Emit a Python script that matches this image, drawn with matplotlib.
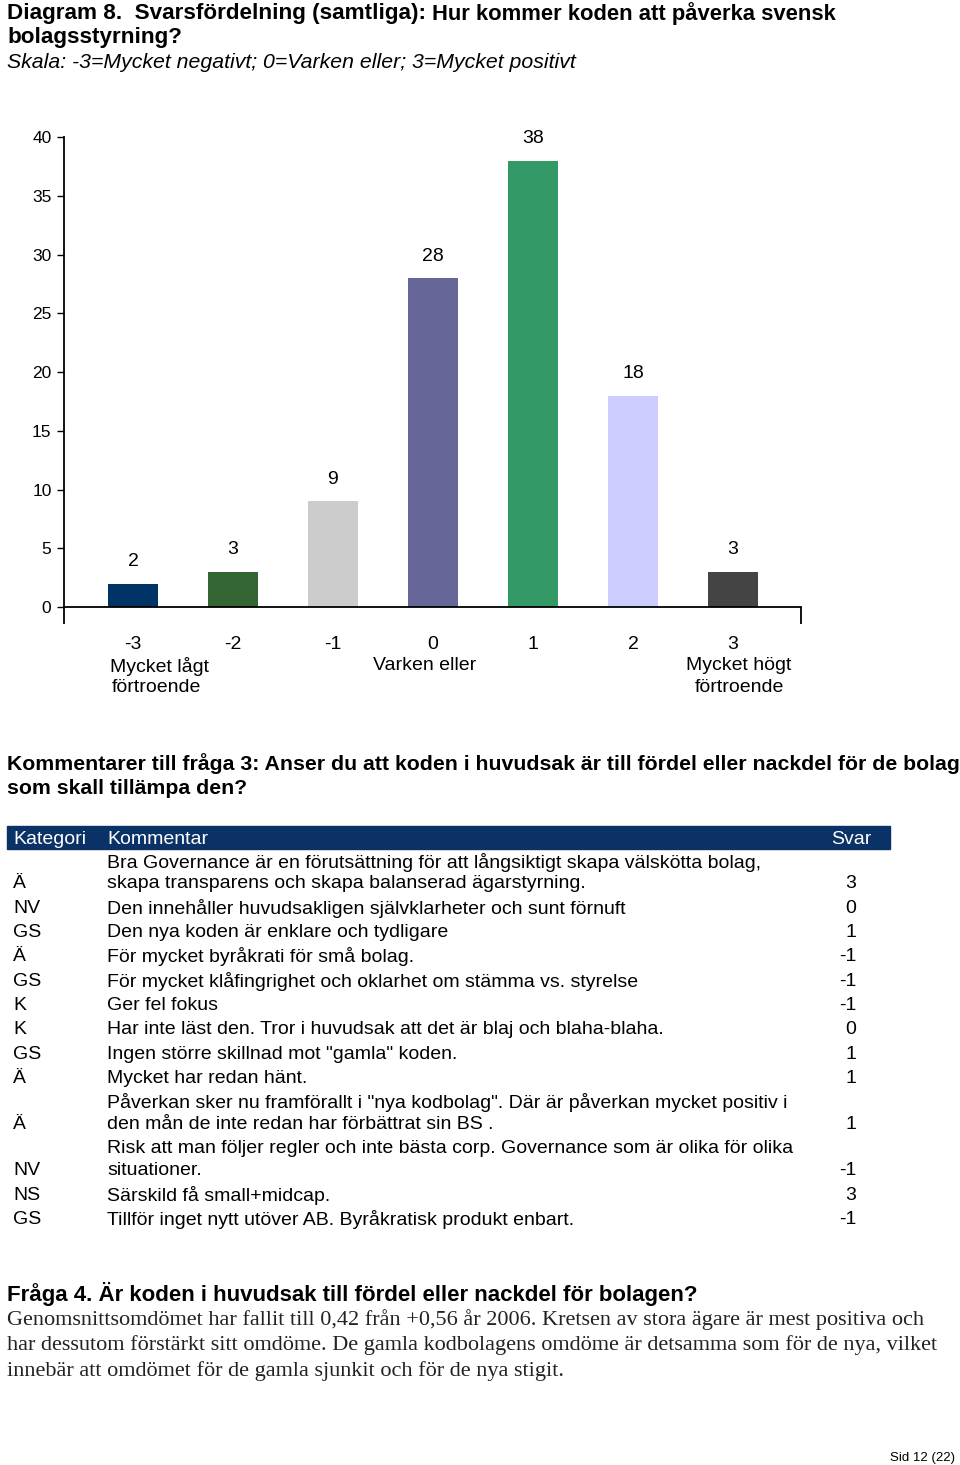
import matplotlib
matplotlib.use("Agg")
import matplotlib.pyplot as plt

W, H = 960, 1465
SANS = ["Liberation Sans", "DejaVu Sans"]
SERIF = ["Liberation Serif", "DejaVu Serif"]

# ---- data ----
categories = ["-3", "-2", "-1", "0", "1", "2", "3"]
counts = [2, 3, 9, 28, 38, 18, 3]
bar_colors = ["#003366", "#336633", "#CCCCCC", "#666699", "#339966", "#CCCCFF", "#444444"]
y_ticks = [0, 5, 10, 15, 20, 25, 30, 35, 40]

table_kategori = ["Ä", "NV", "GS", "Ä", "GS", "K", "K", "GS", "Ä", "Ä", "NV", "NS", "GS"]
table_kommentar = [
    "Bra Governance är en förutsättning för att långsiktigt skapa välskötta bolag,\nskapa transparens och skapa balanserad ägarstyrning.",
    "Den innehåller huvudsakligen självklarheter och sunt förnuft",
    "Den nya koden är enklare och tydligare",
    "För mycket byråkrati för små bolag.",
    "För mycket klåfingrighet och oklarhet om stämma vs. styrelse",
    "Ger fel fokus",
    "Har inte läst den. Tror i huvudsak att det är blaj och blaha-blaha.",
    "Ingen större skillnad mot \"gamla\" koden.",
    "Mycket har redan hänt.",
    "Påverkan sker nu framförallt i \"nya kodbolag\". Där är påverkan mycket positiv i\nden mån de inte redan har förbättrat sin BS .",
    "Risk att man följer regler och inte bästa corp. Governance som är olika för olika\nsituationer.",
    "Särskild få small+midcap.",
    "Tillför inget nytt utöver AB. Byråkratisk produkt enbart.",
]
table_svar = ["3", "0", "1", "-1", "-1", "-1", "0", "1", "1", "1", "-1", "3", "-1"]

fig = plt.figure(figsize=(W / 100, H / 100), dpi=100)


def T(x, y, s, **kw):
    kw.setdefault("family", SANS)
    kw.setdefault("va", "center_baseline")
    kw.setdefault("color", "black")
    return fig.text(x / W, 1 - y / H, s, **kw)


# ---- titles ----
t1 = T(7, 11.5, "Diagram 8.  Svarsfördelning (samtliga): ", fontsize=16.2, fontweight="bold")
fig.canvas.draw()
bb = t1.get_window_extent()
T(bb.x1, 11.5, "Hur kommer koden att påverka svensk", fontsize=15.8, fontweight="bold")
T(7, 35.5, "bolagsstyrning?", fontsize=16.2, fontweight="bold")
T(7, 60.5, "Skala: -3=Mycket negativt; 0=Varken eller; 3=Mycket positivt", fontsize=15.3, style="italic")

# ---- chart ----
ax_l, ax_r, ax_t, ax_b = 64, 801, 137, 607
ax = fig.add_axes([ax_l / W, 1 - ax_b / H, (ax_r - ax_l) / W, (ax_b - ax_t) / H])
x = list(range(len(categories)))
bars = ax.bar(x, counts, width=0.5, color=bar_colors, zorder=2)
ax.set_xlim(-0.69, 6.68)
ax.set_ylim(0, 40)
ax.set_yticks(y_ticks)
ax.set_yticklabels([str(v) for v in y_ticks], family=SANS, fontsize=12.5)
ax.tick_params(axis="y", direction="out", length=5, width=1, pad=4)
ax.set_xticks(x)
ax.set_xticklabels(categories, family=SANS, fontsize=14)
ax.tick_params(axis="x", length=0, pad=21)
ax.set_xticks([-0.69, 6.68], minor=True)
ax.tick_params(axis="x", which="minor", direction="out", length=12, width=1.3)
for s in ["top", "right"]:
    ax.spines[s].set_visible(False)
for s in ["left", "bottom"]:
    ax.spines[s].set_linewidth(1.3)
ax.patch.set_alpha(0)
for xi, v in zip(x, counts):
    ax.annotate(str(v), (xi, v), xytext=(0, 22), textcoords="offset pixels",
                ha="center", va="center", family=SANS, fontsize=14)

T(160, 664, "Mycket lågt", fontsize=14, ha="center")
T(156, 686, "förtroende", fontsize=14, ha="center")
T(425, 664, "Varken eller", fontsize=14, ha="center")
T(739, 664, "Mycket högt", fontsize=14, ha="center")
T(739, 686, "förtroende", fontsize=14, ha="center")

# ---- comments heading ----
T(7, 762, "Kommentarer till fråga 3: Anser du att koden i huvudsak är till fördel eller nackdel för de bolag",
  fontsize=15.3, fontweight="bold")
T(7, 787, "som skall tillämpa den?", fontsize=15.3, fontweight="bold")

# ---- table ----
fig.patches.append(matplotlib.patches.Rectangle((7 / W, 1 - 849 / H), (890 - 7) / W, 23 / H,
                                                transform=fig.transFigure, color="#0B3266", zorder=0))
FS = 14
T(13, 837.5, "Kategori", fontsize=FS, color="white")
T(107, 837.5, "Kommentar", fontsize=FS, color="white")
T(871, 837.5, "Svar", fontsize=FS, color="white", ha="right")

y = 860
line_h = 22.0
row_gap = 24.3
for kat, kom, sv in zip(table_kategori, table_kommentar, table_svar):
    lines = kom.split("\n")
    for i, ln in enumerate(lines):
        T(107, y + i * line_h, ln, fontsize=FS)
    last = y + (len(lines) - 1) * line_h
    T(13, last, kat, fontsize=FS)
    T(856, last, sv, fontsize=FS, ha="right")
    y = last + row_gap

# ---- Fråga 4 ----
T(7, 1291, "Fråga 4. Är koden i huvudsak till fördel eller nackdel för bolagen?", fontsize=16, fontweight="bold")
body = [
    "Genomsnittsomdömet har fallit till 0,42 från +0,56 år 2006. Kretsen av stora ägare är mest positiva och",
    "har dessutom förstärkt sitt omdöme. De gamla kodbolagens omdöme är detsamma som för de nya, vilket",
    "innebär att omdömet för de gamla sjunkit och för de nya stigit.",
]
for i, ln in enumerate(body):
    T(7, 1317 + i * 26, ln, fontsize=16, family=SERIF, color="#222222")

T(955, 1456, "Sid 12 (22)", fontsize=9.5, ha="right")

fig.savefig("out.png", dpi=100)
